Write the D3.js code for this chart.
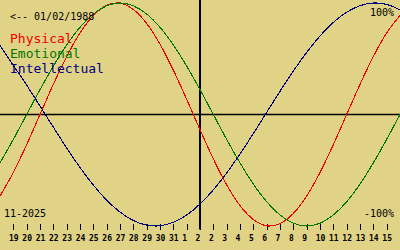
<!DOCTYPE html>
<html>
<head>
<meta charset="utf-8">
<script src="https://cdn.jsdelivr.net/npm/d3@7"></script>
<style>
  html, body { margin: 0; padding: 0; background: #e0d385; }
  svg { display: block; }
  text { font-family: "DejaVu Sans Mono", "Liberation Mono", monospace; }
</style>
</head>
<body>
<script>
// Day slots 0..30 (slot 0 = 18 Oct, not labelled)
const days = d3.range(0, 31);
const tickLabels = ["19","20","21","22","23","24","25","26","27","28","29","30","31",
                    "1","2","2","3","4","5","6","7","8","9","10","11","12","13","14","15"];
const physical = [-0.731,-0.520,-0.270,0.000,0.270,0.520,0.731,0.888,0.979,0.998,0.942,0.817,0.631,0.398,0.136,
                  -0.136,-0.398,-0.631,-0.817,-0.942,-0.998,-0.979,-0.888,-0.731,-0.520,-0.270,0.000,0.270,0.520,0.731,0.888];
const emotional = [-0.434,-0.223,0.000,0.223,0.434,0.624,0.782,0.901,0.975,1.000,0.975,0.901,0.782,0.624,0.434,
                   0.223,0.000,-0.223,-0.434,-0.624,-0.782,-0.901,-0.975,-1.000,-0.975,-0.901,-0.782,-0.624,-0.434,-0.223,0.000];
const intellectual = [0.620,0.441,0.263,0.076,-0.114,-0.300,-0.475,-0.633,-0.768,-0.875,-0.951,-0.992,-0.998,-0.967,-0.902,
                      -0.803,-0.676,-0.525,-0.354,-0.171,0.019,0.208,0.389,0.557,0.704,0.826,0.917,0.976,1.000,0.987,0.939];
const seriesNames = ["Physical", "Emotional", "Intellectual"];
const seriesColors = ["#f00000", "#007800", "#000080"];
const birthLabel = "<-- 01/02/1988";
const monthLabel = "11-2025";
const topLabel = "100%";
const bottomLabel = "-100%";

const W = 400, H = 250;
const svg = d3.select("body").append("svg").attr("width", W).attr("height", H);
svg.append("rect").attr("width", W).attr("height", H).attr("fill", "#e0d385");

const x = d3.scaleLinear().domain([0, 30]).range([0, 400]);
const y = d3.scaleLinear().domain([-1, 1]).range([226, 3]);

// zero line
svg.append("line").attr("x1", 0).attr("x2", W).attr("y1", y(0)).attr("y2", y(0))
  .attr("stroke", "#000").attr("stroke-width", 1.5);
// today line
svg.append("line").attr("x1", x(15)).attr("x2", x(15)).attr("y1", 0).attr("y2", 229.5)
  .attr("stroke", "#000").attr("stroke-width", 2);

// ticks
const tickIdx = d3.range(1, 30);
const axis = d3.axisBottom(x).tickValues(tickIdx).tickSize(6).tickPadding(5)
  .tickFormat((d, i) => tickLabels[i]);
const gAxis = svg.append("g").attr("transform", "translate(0,224)").call(axis);
gAxis.select(".domain").remove();
gAxis.selectAll(".tick line").attr("stroke", "#000").attr("shape-rendering", "crispEdges");
gAxis.selectAll(".tick text")
  .attr("fill", "#000")
  .attr("font-family", "DejaVu Sans Mono")
  .attr("font-size", 8)
  .attr("font-weight", "bold")
  .attr("dx", function(d, i) { return tickLabels[i].length === 1 ? -2.5 : 0; });

// curves
const line = d3.line().x((d, i) => x(days[i])).y(d => y(d)).curve(d3.curveCardinal.tension(0));
[physical, emotional, intellectual].forEach((s, k) => {
  svg.append("path").attr("d", line(s)).attr("fill", "none")
    .attr("stroke", seriesColors[k]).attr("stroke-width", 1.1)
    .attr("shape-rendering", "crispEdges");
});

// texts
svg.append("text").attr("x", 10).attr("y", 19.5).attr("font-size", 10).attr("fill", "#000").text(birthLabel);
seriesNames.forEach((n, k) => {
  svg.append("text").attr("x", 10).attr("y", 42.5 + 15 * k).attr("font-size", 13)
    .attr("fill", seriesColors[k]).text(n);
});
svg.append("text").attr("x", 394).attr("y", 16).attr("font-size", 10).attr("text-anchor", "end").attr("fill", "#000").text(topLabel);
svg.append("text").attr("x", 394).attr("y", 216.5).attr("font-size", 10).attr("text-anchor", "end").attr("fill", "#000").text(bottomLabel);
svg.append("text").attr("x", 4).attr("y", 216.5).attr("font-size", 10).attr("fill", "#000").text(monthLabel);
</script>
</body>
</html>
